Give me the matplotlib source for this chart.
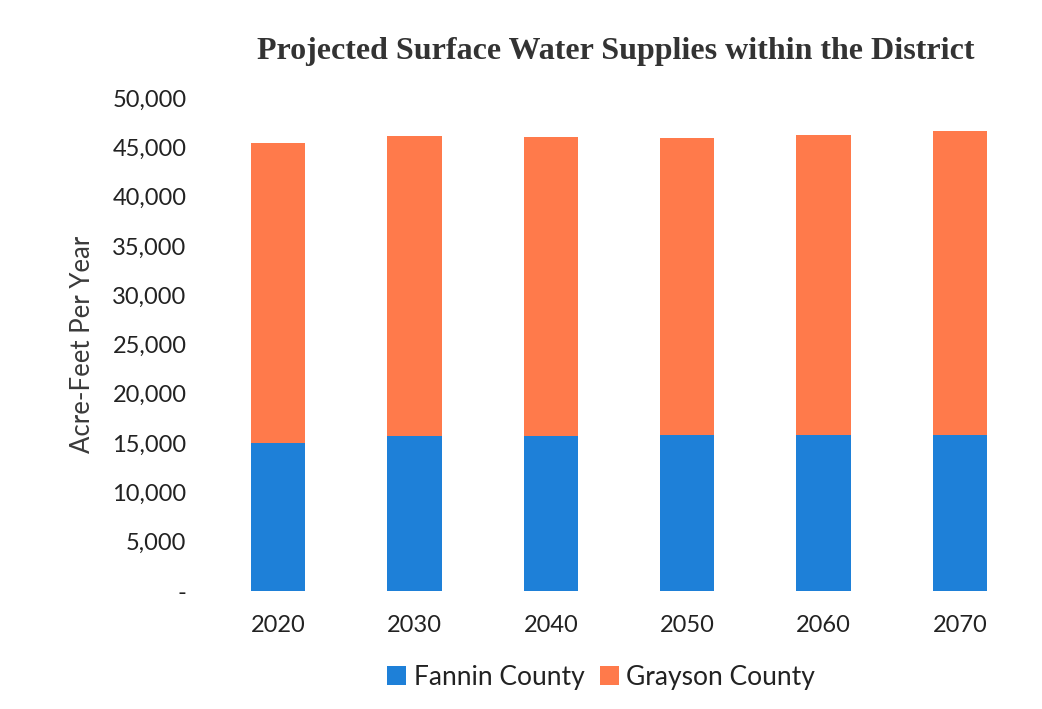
import matplotlib.pyplot as plt
import numpy as np

years = ["2020", "2030", "2040", "2050", "2060", "2070"]
fannin = [15000, 15700, 15700, 15800, 15800, 15800]
grayson = [30400, 30400, 30300, 30100, 30400, 30900]

blue = "#1E80D8"
orange = "#FF7A4B"
text_color = "#222222"

fig = plt.figure(figsize=(10.42, 7.09), dpi=100)
ax = fig.add_axes([210 / 1042, 1 - 591 / 709, 818 / 1042, 493 / 709])

x = np.arange(len(years))
ax.bar(x, fannin, width=0.4, color=blue, label="Fannin County")
ax.bar(x, grayson, width=0.4, bottom=fannin, color=orange, label="Grayson County")

ax.set_xlim(-0.5, len(years) - 0.5)
ax.set_ylim(0, 50000)
ax.set_xticks(x)
ax.set_xticklabels(years, fontsize=17, family="Lato", color=text_color)
yticks = np.arange(0, 50001, 5000)
ax.set_yticks(yticks)
ax.set_yticklabels(["-"] + [f"{v:,}" for v in yticks[1:]],
                   fontsize=17, family="Lato", color=text_color)
ax.tick_params(length=0)
ax.tick_params(axis="x", pad=17)
ax.tick_params(axis="y", pad=17)
for s in ax.spines.values():
    s.set_visible(False)

ax.set_ylabel("Acre-Feet Per Year", fontsize=18.5, family="Lato",
              color="#3a3a3a", labelpad=12)

fig.text(0.591, 0.928, "Projected Surface Water Supplies within the District",
         ha="center", va="center", fontsize=23, fontweight="bold",
         family="Liberation Serif", color="#333333")

fig.legend(loc="center", bbox_to_anchor=(0.577, 0.045), ncol=2, frameon=False,
           prop={"family": "Lato", "size": 19}, handlelength=0.7,
           handleheight=0.7, handletextpad=0.3, columnspacing=0.6,
           labelcolor=text_color)

fig.savefig("out.png", dpi=100)
